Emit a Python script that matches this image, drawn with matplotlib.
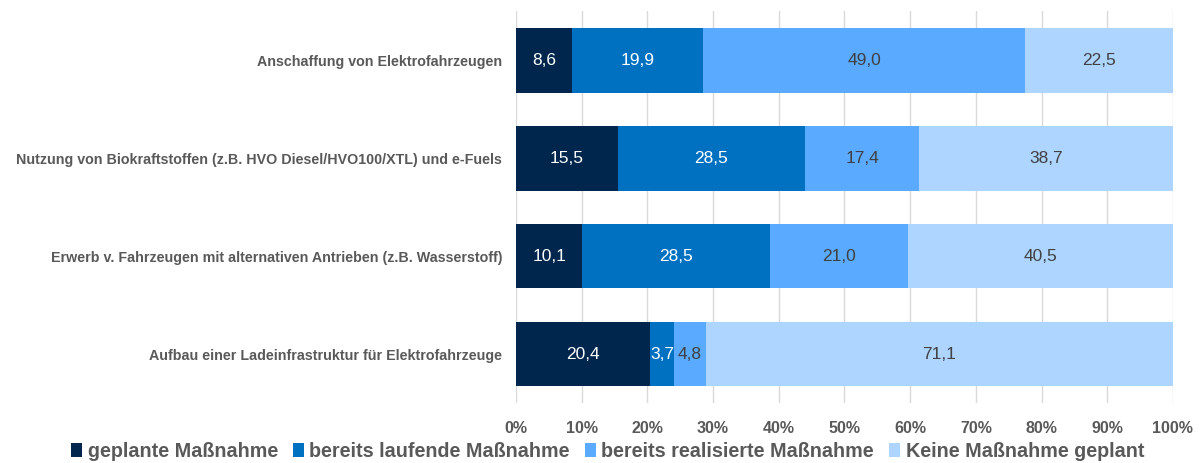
import matplotlib
matplotlib.use("Agg")
import matplotlib.pyplot as plt
import numpy as np

plt.rcParams['font.family'] = ['Liberation Sans', 'DejaVu Sans']

categories = [
    "Anschaffung von Elektrofahrzeugen",
    "Nutzung von Biokraftstoffen (z.B. HVO Diesel/HVO100/XTL) und e-Fuels",
    "Erwerb v. Fahrzeugen mit alternativen Antrieben (z.B. Wasserstoff)",
    "Aufbau einer Ladeinfrastruktur für Elektrofahrzeuge",
]
series_names = ["geplante Maßnahme", "bereits laufende Maßnahme",
                "bereits realisierte Maßnahme", "Keine Maßnahme geplant"]
geplant = [8.6, 15.5, 10.1, 20.4]
laufend = [19.9, 28.5, 28.5, 3.7]
realisiert = [49.0, 17.4, 21.0, 4.8]
keine = [22.5, 38.7, 40.5, 71.1]
xticks = [0, 10, 20, 30, 40, 50, 60, 70, 80, 90, 100]
xticklabels = [f"{v}%" for v in xticks]

colors = ["#00264D", "#0070C0", "#5AABFF", "#ADD5FF"]
label_colors = ["white", "white", "#404040", "#404040"]
gray = "#595959"

fig = plt.figure(figsize=(12.03, 4.63), dpi=100)
ax = fig.add_axes([0.4289, 0.1296, 0.5461, 0.8456])

y = np.arange(len(categories))
left = np.zeros(len(categories))
for vals, name, c, lc in zip([geplant, laufend, realisiert, keine], series_names, colors, label_colors):
    bars = ax.barh(y, vals, left=left, height=0.66, color=c, label=name, zorder=3)
    for b, v in zip(bars, vals):
        ax.text(b.get_x() + b.get_width() / 2, b.get_y() + b.get_height() / 2,
                f"{v:.1f}".replace(".", ","), ha="center", va="center",
                color=lc, fontsize=12.5, zorder=4)
    left += np.array(vals)

ax.set_ylim(3.5, -0.5)
ax.set_xlim(0, 100)
ax.set_yticks(y)
ax.set_yticklabels(categories, fontsize=10.3, fontweight="bold", color=gray)
ax.set_xticks(xticks)
ax.set_xticklabels(xticklabels, fontsize=11.5, fontweight="bold", color=gray)
ax.tick_params(axis="both", length=0)
ax.tick_params(axis="y", pad=10)
ax.tick_params(axis="x", pad=13)
ax.grid(axis="x", color="#D9D9D9", linewidth=1, zorder=0)
for s in ax.spines.values():
    s.set_visible(False)

handles, labels = ax.get_legend_handles_labels()
leg = fig.legend(handles, labels, loc="lower center", bbox_to_anchor=(0.505, -0.033),
                 ncol=4, frameon=False, handlelength=0.55, handleheight=0.7,
                 handletextpad=0.3, columnspacing=0.75,
                 prop={"size": 14.2, "weight": "bold"})
for t in leg.get_texts():
    t.set_color(gray)

fig.savefig("out.png", dpi=100)
